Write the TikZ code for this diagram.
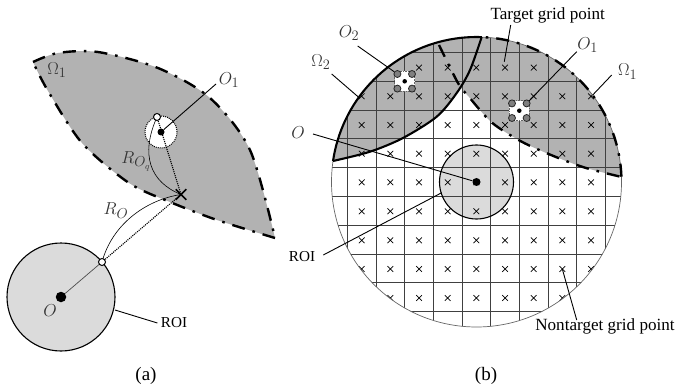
\documentclass[tikz,border=0pt]{standalone}
\usepackage{fontspec}
\setmainfont{Liberation Serif}
\usepackage{tikz}
\usetikzlibrary{shapes.misc, calc}
\definecolor{lensgray}{gray}{0.70}
\definecolor{roigray}{gray}{0.86}

\begin{document}
\begin{tikzpicture}[
    x=1pt, y=-1pt,
    font=\fontsize{17.1}{20}\selectfont,
    lbl/.style={font=\fontsize{19}{21}\selectfont, inner sep=0pt, text=black!80},
    roilbl/.style={font=\fontsize{15.2}{18}\selectfont},
    sublbl/.style={font=\fontsize{19}{21}\selectfont},
    lens/.style={fill=lensgray, draw=none},
    dashdot/.style={line width=2.4pt, dash pattern=on 13pt off 8pt on 2.6pt off 8pt},
    bold edge/.style={line width=2.1pt},
    leader/.style={line width=0.9pt},
    thinarc/.style={line width=0.6pt},
    dotline/.style={line width=1.1pt, densely dotted},
    opendot/.style={circle, draw, fill=white, line width=1pt, minimum size=7pt, inner sep=0pt},
    soliddot/.style={circle, fill=black, minimum size=#1, inner sep=0pt},
    gridpt/.style={cross out, draw, minimum size=5pt, inner sep=0pt, line width=0.7pt},
    holebox/.style={fill=white, draw=black!60, densely dotted, line width=0.6pt, minimum size=20pt, inner sep=0pt},
    probe/.style={circle, draw=black!85, fill=black!50, line width=0.8pt, minimum size=7pt, inner sep=0pt},
]
\useasboundingbox (0,0) rectangle (676,387);

% (a) sensitive region
\path[lens] plot[smooth] coordinates {(33,62) (58,53) (98,52) (158,68) (210,98) (250,150) (275,238)}
    -- plot[smooth] coordinates {(275,238) (217,220) (170,202) (129,183) (82,143) (48,91) (33,62)} -- cycle;
\draw[dashdot] plot[smooth] coordinates {(33,62) (58,53) (98,52) (158,68) (210,98) (250,150) (275,238)};
\draw[dashdot] plot[smooth] coordinates {(275,238) (217,220) (170,202) (129,183) (82,143) (48,91) (33,62)};
\node[lbl] (omegaa) at (57,70) {$\Omega_1$};

% (a) hole and ROI
\node[circle, fill=white, draw=black, densely dotted, line width=1pt, minimum size=32pt, inner sep=0pt] (hole) at (161,132) {};
\node[circle, fill=roigray, draw=black, line width=1.1pt, minimum size=108pt, inner sep=0pt] (roia) at (61,297) {};
\node[soliddot=10.5pt] (oa) at (61,297) {};
\node[soliddot=7pt] (ooa) at (161,132) {};
\coordinate (crossa) at (181,194.5);
\coordinate (qa) at (157,117);
\coordinate (pa) at (102,262);
\draw[dotline] (qa) -- (crossa);
\draw[dotline] (pa) -- (crossa);
\draw[line width=0.7pt, black!70] (oa) -- (pa);
\draw[thinarc] (qa) .. controls (140,155) and (150,182) .. (crossa);
\draw[thinarc] (pa) .. controls (112,225) and (145,200) .. (crossa);
\node[cross out, draw, line width=1.5pt, minimum size=9pt, inner sep=0pt] (crossmk) at (crossa) {};
\node[opendot] (qadot) at (qa) {};
\node[opendot] (padot) at (pa) {};

\node[lbl] (ooalbl) at (229,80) {$O_1$};
\coordinate (ooalead) at (216,84);
\draw[leader] (ooa) -- (ooalead);
\node[lbl] at (136,161) {$R_{O_q}$};
\node[lbl] at (116,211) {$R_O$};
\node[lbl] at (50,311) {$O$};
\node[roilbl] (roialbl) at (174,323) {ROI};
\coordinate (roiaend) at (115,310);
\draw[leader] (roiaend) -- (roialbl.west);
\node[sublbl] at (146,376) {(a)};

% (b) regions
\path[lens] plot[domain=2.1:105, samples=40] ({476.5+145*cos(\x)},{182-145*sin(\x)})
    -- plot[smooth] coordinates {(439,42) (458,83) (469,97) (492,122.7) (521.7,141.7) (552.7,155.7) (585,167.7) (620.5,176.7)} -- cycle;
\path[lens] plot[domain=87.9:171.7, samples=40] ({476.5+145*cos(\x)},{182-145*sin(\x)})
    -- plot[smooth] coordinates {(333,161) (370,151.7) (403,138) (436.7,116.7) (456.7,93) (470,70) (481.7,37)} -- cycle;
\node[circle, fill=roigray, minimum size=74pt, inner sep=0pt] (roib) at (476.5,182) {};

% grid
\begin{scope}
\clip (476.5,182) circle (145);
\foreach \x in {347.3,376,404.7,433.3,462,490.7,519.3,548,576.7,605.3}
    \draw[line width=0.9pt, black!75] (\x,30) -- (\x,330);
\foreach \y in {52.7,81.3,110,138.7,167.3,196,225,254,282.7,311.3}
    \draw[line width=0.9pt, black!75] (325,\y) -- (625,\y);
\foreach \x in {361.7,390.3,419,447.7,476.3,505,533.7,562.3,591}
    \foreach \y in {96.3,125,153.7,182.3,211.3,240.3,269,298}
        \node[gridpt] at (\x,\y) {};
\foreach \x in {419,447.7,476.3,505,533.7}
    \node[gridpt] at (\x,67.6) {};
\end{scope}

% (b) outlines
\node[circle, draw=black!60, line width=0.7pt, minimum size=290pt, inner sep=0pt] (disk) at (476.5,182) {};
\node[circle, draw=black, line width=1.1pt, minimum size=74pt, inner sep=0pt] (roiline) at (476.5,182) {};
\draw[dashdot] plot[smooth] coordinates {(439,45) (458,83) (469,97) (492,122.7) (521.7,141.7) (552.7,155.7) (585,167.7) (620.5,176.7)};
\draw[dashdot] plot[domain=2.1:87.4, samples=40] ({476.5+145*cos(\x)},{182-145*sin(\x)});
\draw[bold edge] plot[domain=87.9:171.7, samples=40] ({476.5+145*cos(\x)},{182-145*sin(\x)});
\draw[bold edge] plot[smooth] coordinates {(333,161) (370,151.7) (403,138) (436.7,116.7) (456.7,93) (470,70) (481.7,37)};

% holes with probes
\foreach \n/\cx/\cy in {ob/404.7/81.3, oc/519.3/110.7} {
    \node[holebox] (\n) at (\cx,\cy) {};
    \foreach \i/\dx/\dy in {a/-7.3/-7.3, b/7.3/-7.3, c/-7.3/7.3, d/7.3/7.3}
        \node[probe] (\n\i) at (\cx+\dx,\cy+\dy) {};
    \node[soliddot=4.5pt] at (\cx,\cy) {};
}
\node[soliddot=8pt] (ob0) at (476.5,182) {};

% (b) labels
\node[lbl] (olbl) at (298,133) {$O$};
\coordinate (olead) at (313,134);
\draw[leader] (olead) -- (ob0);
\node[lbl] (o2lbl) at (349,33) {$O_2$};
\coordinate (o2lead) at (357.7,46);
\draw[leader] (o2lead) -- (oba);
\node[lbl] (om2lbl) at (321,62) {$\Omega_2$};
\coordinate (om2lead) at (331.7,74);
\coordinate (om2end) at (358,96.7);
\draw[leader] (om2lead) -- (om2end);
\node (targetlbl) at (547.7,15) {Target grid point};
\coordinate (tlead) at (510.7,25);
\coordinate (tend) at (504.3,61.7);
\draw[leader] (tlead) -- (tend);
\node[lbl] (o1lbl) at (587.7,45) {$O_1$};
\coordinate (o1lead) at (576.7,51.7);
\draw[leader] (o1lead) -- (ocb);
\node[lbl] (om1lbl) at (627.7,71.7) {$\Omega_1$};
\coordinate (om1lead) at (611.7,75);
\coordinate (om1end) at (592.7,95);
\draw[leader] (om1lead) -- (om1end);
\node[roilbl] (roiblbl) at (302,256.7) {ROI};
\coordinate (roilead) at (323.3,255);
\coordinate (roiend) at (441.7,192.7);
\draw[leader] (roilead) -- (roiend);
\node (nontlbl) at (605,326) {Nontarget grid point};
\coordinate (nlead) at (576.7,320);
\coordinate (nend) at (562.3,269);
\draw[leader] (nlead) -- (nend);
\node[sublbl] at (486,375.7) {(b)};
\end{tikzpicture}
\end{document}
